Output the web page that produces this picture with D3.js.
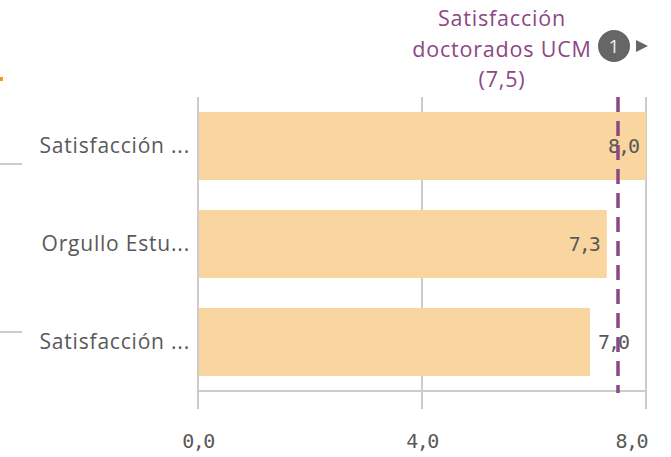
<!DOCTYPE html>
<html>
<head>
<meta charset="utf-8">
<script src="https://cdn.jsdelivr.net/npm/d3@7"></script>
<style>
  body { margin: 0; background: #fff; }
  svg { display: block; }
</style>
</head>
<body>
<svg width="671" height="457"></svg>
<script>
// data
var categories = ["Satisfacción ...", "Orgullo Estu...", "Satisfacción ..."];
var values = [8.0, 7.3, 7.0];
var tickValues = [0, 4, 8];
var refValue = 7.5;
var refLabel = ["Satisfacción", "doctorados UCM", "(7,5)"];

var svg = d3.select("svg"),
    margin = {top: 97, right: 25, bottom: 66, left: 198},
    width = +svg.attr("width") - margin.left - margin.right,
    height = +svg.attr("height") - margin.top - margin.bottom,
    g = svg.append("g").attr("transform", "translate(" + margin.left + "," + margin.top + ")");

var fmt = function(v) { return d3.format(".1f")(v).replace(".", ","); };

var x = d3.scaleLinear().domain([0, 8]).range([0, width]);
var y = d3.scaleBand().domain(d3.range(categories.length)).range([0, height]).paddingInner(0.306).paddingOuter(0.153);

var grey = "#595959", lineGrey = "#cccccc";

// grid lines
g.append("g").selectAll("line")
    .data(tickValues)
    .enter().append("line")
    .attr("x1", function(d) { return x(d); })
    .attr("x2", function(d) { return x(d); })
    .attr("y1", 0)
    .attr("y2", height + 18)
    .attr("stroke", lineGrey)
    .attr("stroke-width", 2);

// bars
g.selectAll(".bar")
    .data(values)
    .enter().append("rect")
    .attr("class", "bar")
    .attr("x", x(0) + 1)
    .attr("y", function(d, i) { return y(i); })
    .attr("width", function(d) { return x(d) - x(0) - 1; })
    .attr("height", y.bandwidth())
    .attr("fill", "#f9d59f");

// axis baseline
g.append("line")
    .attr("x1", x(0)).attr("x2", x(8))
    .attr("y1", height).attr("y2", height)
    .attr("stroke", lineGrey).attr("stroke-width", 2);

// tick labels, last one kept inside the plot
g.append("g").selectAll("text")
    .data(tickValues)
    .enter().append("text")
    .attr("x", function(d, i) { return i == tickValues.length - 1 ? x(d) + 1 : x(d); })
    .attr("y", height + 57)
    .attr("text-anchor", function(d, i) { return i == tickValues.length - 1 ? "end" : "middle"; })
    .attr("font-family", "DejaVu Sans Mono")
    .attr("font-size", 20)
    .attr("letter-spacing", -1.5)
    .attr("fill", grey)
    .text(function(d) { return fmt(d); });

// category labels
g.append("g").selectAll("text")
    .data(categories)
    .enter().append("text")
    .attr("x", -8)
    .attr("y", function(d, i) { return y(i) + y.bandwidth() / 2; })
    .attr("dy", "0.35em")
    .attr("text-anchor", "end")
    .attr("font-family", "Open Sans")
    .attr("font-size", 21)
    .attr("letter-spacing", 0.8)
    .attr("fill", grey)
    .text(function(d) { return d; });

// value labels
g.append("g").selectAll("text")
    .data(values)
    .enter().append("text")
    .attr("x", function(d) { return d >= 7.2 ? x(d) - 8 : x(d) + 8; })
    .attr("y", function(d, i) { return y(i) + y.bandwidth() / 2; })
    .attr("dy", "0.35em")
    .attr("text-anchor", function(d) { return d >= 7.2 ? "end" : "start"; })
    .attr("font-family", "DejaVu Sans Mono")
    .attr("font-size", 20)
    .attr("letter-spacing", -2)
    .attr("fill", grey)
    .text(function(d) { return fmt(d); });

// reference line
var purple = "#8c4785";
g.append("line")
    .attr("x1", x(refValue)).attr("x2", x(refValue))
    .attr("y1", 0).attr("y2", height + 2)
    .attr("stroke", purple)
    .attr("stroke-width", 3.5)
    .attr("stroke-dasharray", "15,9");

svg.append("g").selectAll("text")
    .data(refLabel)
    .enter().append("text")
    .attr("x", margin.left + x(refValue) - 116)
    .attr("y", function(d, i) { return 26 + i * 30.5; })
    .attr("text-anchor", "middle")
    .attr("font-family", "Open Sans")
    .attr("font-size", 21.5)
    .attr("letter-spacing", 0.8)
    .attr("fill", purple)
    .text(function(d) { return d; });

// badge
svg.append("circle").attr("cx", 614).attr("cy", 46).attr("r", 16).attr("fill", "#666");
svg.append("text").attr("x", 614).attr("y", 46).attr("dy", "0.35em")
    .attr("text-anchor", "middle").attr("font-family", "Open Sans").attr("font-size", 19)
    .attr("fill", "#eee").text("1");
svg.append("path").attr("d", "M636,40L648,46L636,52Z").attr("fill", "#666");

// cut-off pieces of the neighbouring chart
svg.append("rect").attr("x", 0).attr("y", 77).attr("width", 3).attr("height", 4).attr("fill", "#f7941d");
svg.append("line").attr("x1", 0).attr("x2", 22).attr("y1", 164).attr("y2", 164).attr("stroke", lineGrey).attr("stroke-width", 2);
svg.append("line").attr("x1", 0).attr("x2", 22).attr("y1", 332).attr("y2", 332).attr("stroke", lineGrey).attr("stroke-width", 2);
</script>
</body>
</html>
